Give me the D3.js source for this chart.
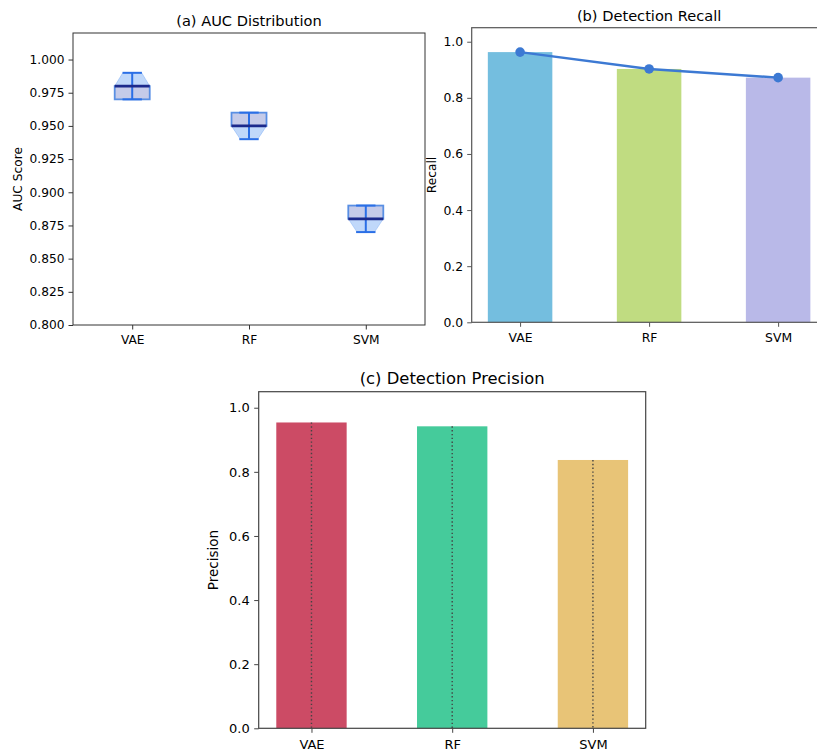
<html>
<head>
<script src="https://d3js.org/d3.v7.min.js"></script>
<style>
  body { margin: 0; background: #fff; }
  text { font-family: "DejaVu Sans", sans-serif; fill: #000; }
</style>
</head>
<body>
<svg id="fig" width="817" height="754"></svg>
<script>
// models shared by all three panels
var models = ["VAE", "RF", "SVM"];

// (a) AUC distribution summary per model
var aucMin = [0.97, 0.94, 0.87];
var aucQ1 = [0.97, 0.95, 0.88];
var aucMed = [0.98, 0.95, 0.88];
var aucQ3 = [0.98, 0.96, 0.89];
var aucMax = [0.99, 0.96, 0.89];
// violin outline: levels and relative density at each level
var violinLevels = [[0.97, 0.98, 0.99], [0.94, 0.95, 0.96], [0.87, 0.88, 0.89]];
var violinDensity = [[1, 1, 0.54], [0.5, 1, 1], [0.5, 1, 1]];
var aucTicks = [0.800, 0.825, 0.850, 0.875, 0.900, 0.925, 0.950, 0.975, 1.000];

// (b) recall
var recall = [0.963, 0.903, 0.872];
var recallColors = ["#74bedf", "#c0dc81", "#b9b9e8"];

// (c) precision
var precision = [0.954, 0.942, 0.837];
var precisionColors = ["#cc4b65", "#45cb9b", "#e8c477"];
var barTicks = [0, 0.2, 0.4, 0.6, 0.8, 1.0];

var svg = d3.select("#fig");
svg.append("rect").attr("width", 817).attr("height", 754).attr("fill", "#fff");

function styleAxis(g, color, fs) {
  g.selectAll(".domain").remove();
  g.selectAll(".tick line").attr("stroke", color).attr("stroke-width", 1);
  g.selectAll(".tick text").attr("font-size", fs).attr("fill", "#000")
    .style("font-family", "DejaVu Sans");
}

// ---------- panel (a) ----------
var ax = {l: 73, r: 425, t: 33, b: 325};
var xa = d3.scaleLinear().domain([-0.507, 2.507]).range([ax.l, ax.r]);
var ya = d3.scaleLinear().domain([0.8, 1.02]).range([ax.b, ax.t]);
var pa = svg.append("g");

var halfW = 0.15, capW = 0.083;
var violinArea = d3.area()
  .x0(function(d) { return xa(d.i - halfW * d.w); })
  .x1(function(d) { return xa(d.i + halfW * d.w); })
  .y(function(d) { return ya(d.v); });

models.forEach(function(m, i) {
  var pts = violinLevels[i].map(function(v, k) { return {i: i, v: v, w: violinDensity[i][k]}; });
  pa.append("path").attr("d", violinArea(pts))
    .attr("fill", "#4a8ef2").attr("fill-opacity", 0.35)
    .attr("stroke", "#4a8ef2").attr("stroke-opacity", 0.3);
  // box
  pa.append("rect")
    .attr("x", xa(i - halfW)).attr("width", xa(i + halfW) - xa(i - halfW))
    .attr("y", ya(aucQ3[i])).attr("height", ya(aucQ1[i]) - ya(aucQ3[i]))
    .attr("fill", "#c5cbe9").attr("stroke", "#3f7ee0").attr("stroke-width", 1.8).attr("stroke-opacity", 0.8);
  // extrema caps and bar
  [aucMin[i], aucMax[i]].forEach(function(v) {
    pa.append("line").attr("x1", xa(i - capW)).attr("x2", xa(i + capW))
      .attr("y1", ya(v)).attr("y2", ya(v))
      .attr("stroke", "#2b6fe6").attr("stroke-width", 2);
  });
  pa.append("line").attr("x1", xa(i)).attr("x2", xa(i))
    .attr("y1", ya(aucMin[i])).attr("y2", ya(aucMax[i]))
    .attr("stroke", "#2b6fe6").attr("stroke-width", 2);
  // median
  pa.append("line").attr("x1", xa(i - halfW)).attr("x2", xa(i + halfW))
    .attr("y1", ya(aucMed[i])).attr("y2", ya(aucMed[i]))
    .attr("stroke", "#1c2a8c").attr("stroke-width", 2.7);
});

var gxa = pa.append("g").attr("transform", "translate(0," + ax.b + ")")
  .call(d3.axisBottom(xa).tickValues([0, 1, 2]).tickFormat(function(d) { return models[d]; })
    .tickSize(4.5).tickPadding(6));
styleAxis(gxa, "#333", 12.2);
var gya = pa.append("g").attr("transform", "translate(" + ax.l + ",0)")
  .call(d3.axisLeft(ya).tickValues(aucTicks).tickFormat(d3.format(".3f")).tickSize(4.5).tickPadding(4));
styleAxis(gya, "#333", 12.2);
pa.append("rect").attr("x", ax.l).attr("y", ax.t).attr("width", ax.r - ax.l).attr("height", ax.b - ax.t)
  .attr("fill", "none").attr("stroke", "#333").attr("stroke-width", 1);
pa.append("text").attr("x", (ax.l + ax.r) / 2).attr("y", 26).attr("text-anchor", "middle")
  .attr("font-size", 14.6).text("(a) AUC Distribution");
pa.append("text").attr("transform", "translate(21.5," + ((ax.t + ax.b) / 2) + ") rotate(-90)")
  .attr("text-anchor", "middle").attr("font-size", 12.2).text("AUC Score");

// ---------- panel (b) ----------
var bx = {l: 471.7, r: 826.5, t: 27.7, b: 322.3};
var xb = d3.scaleLinear().domain([-0.375, 2.375]).range([bx.l, bx.r]);
var yb = d3.scaleLinear().domain([0, 1.05]).range([bx.b, bx.t]);
var pb = svg.append("g");
pb.selectAll("rect.bar").data(recall).enter().append("rect").attr("class", "bar")
  .attr("x", function(d, i) { return xb(i - 0.25); })
  .attr("width", xb(0.25) - xb(-0.25))
  .attr("y", function(d) { return yb(d); })
  .attr("height", function(d) { return yb(0) - yb(d); })
  .attr("fill", function(d, i) { return recallColors[i]; });
var recallLine = d3.line().x(function(d, i) { return xb(i); }).y(function(d) { return yb(d); });
pb.append("path").attr("d", recallLine(recall)).attr("fill", "none")
  .attr("stroke", "#3c79d3").attr("stroke-width", 2.4);
pb.selectAll("circle").data(recall).enter().append("circle")
  .attr("cx", function(d, i) { return xb(i); }).attr("cy", function(d) { return yb(d); })
  .attr("r", 4.8).attr("fill", "#3c79d3");
var gxb = pb.append("g").attr("transform", "translate(0," + bx.b + ")")
  .call(d3.axisBottom(xb).tickValues([0, 1, 2]).tickFormat(function(d) { return models[d]; })
    .tickSize(4.5).tickPadding(6));
styleAxis(gxb, "#555", 12.4);
var gyb = pb.append("g").attr("transform", "translate(" + bx.l + ",0)")
  .call(d3.axisLeft(yb).tickValues(barTicks).tickFormat(d3.format(".1f")).tickSize(4.5).tickPadding(4));
styleAxis(gyb, "#555", 12.4);
pb.append("rect").attr("x", bx.l).attr("y", bx.t).attr("width", bx.r - bx.l).attr("height", bx.b - bx.t)
  .attr("fill", "none").attr("stroke", "#555").attr("stroke-width", 1.2);
pb.append("text").attr("x", (bx.l + bx.r) / 2).attr("y", 20.5).attr("text-anchor", "middle")
  .attr("font-size", 14.6).text("(b) Detection Recall");
pb.append("text").attr("transform", "translate(435.5," + ((bx.t + bx.b) / 2) + ") rotate(-90)")
  .attr("text-anchor", "middle").attr("font-size", 12.2).text("Recall");

// ---------- panel (c) ----------
var cx = {l: 258.7, r: 645.7, t: 391.7, b: 728.3};
var xc = d3.scaleLinear().domain([-0.375, 2.375]).range([cx.l, cx.r]);
var yc = d3.scaleLinear().domain([0, 1.05]).range([cx.b, cx.t]);
var pc = svg.append("g");
pc.selectAll("rect.bar").data(precision).enter().append("rect").attr("class", "bar")
  .attr("x", function(d, i) { return xc(i - 0.25); })
  .attr("width", xc(0.25) - xc(-0.25))
  .attr("y", function(d) { return yc(d); })
  .attr("height", function(d) { return yc(0) - yc(d); })
  .attr("fill", function(d, i) { return precisionColors[i]; });
pc.selectAll("line.dot").data(precision).enter().append("line").attr("class", "dot")
  .attr("x1", function(d, i) { return xc(i); }).attr("x2", function(d, i) { return xc(i); })
  .attr("y1", function(d) { return yc(d); }).attr("y2", yc(0))
  .attr("stroke", "#444").attr("stroke-width", 1.4).attr("stroke-dasharray", "1.4,2.4");
var gxc = pc.append("g").attr("transform", "translate(0," + cx.b + ")")
  .call(d3.axisBottom(xc).tickValues([0, 1, 2]).tickFormat(function(d) { return models[d]; })
    .tickSize(4.5).tickPadding(7));
styleAxis(gxc, "#444", 13);
var gyc = pc.append("g").attr("transform", "translate(" + cx.l + ",0)")
  .call(d3.axisLeft(yc).tickValues(barTicks).tickFormat(d3.format(".1f")).tickSize(4.5).tickPadding(4.5));
styleAxis(gyc, "#444", 13);
pc.append("rect").attr("x", cx.l).attr("y", cx.t).attr("width", cx.r - cx.l).attr("height", cx.b - cx.t)
  .attr("fill", "none").attr("stroke", "#444").attr("stroke-width", 1.2);
pc.append("text").attr("x", (cx.l + cx.r) / 2).attr("y", 383.5).attr("text-anchor", "middle")
  .attr("font-size", 16.4).text("(c) Detection Precision");
pc.append("text").attr("transform", "translate(217.7," + ((cx.t + cx.b) / 2) + ") rotate(-90)")
  .attr("text-anchor", "middle").attr("font-size", 13.5).text("Precision");
</script>
</body>
</html>
